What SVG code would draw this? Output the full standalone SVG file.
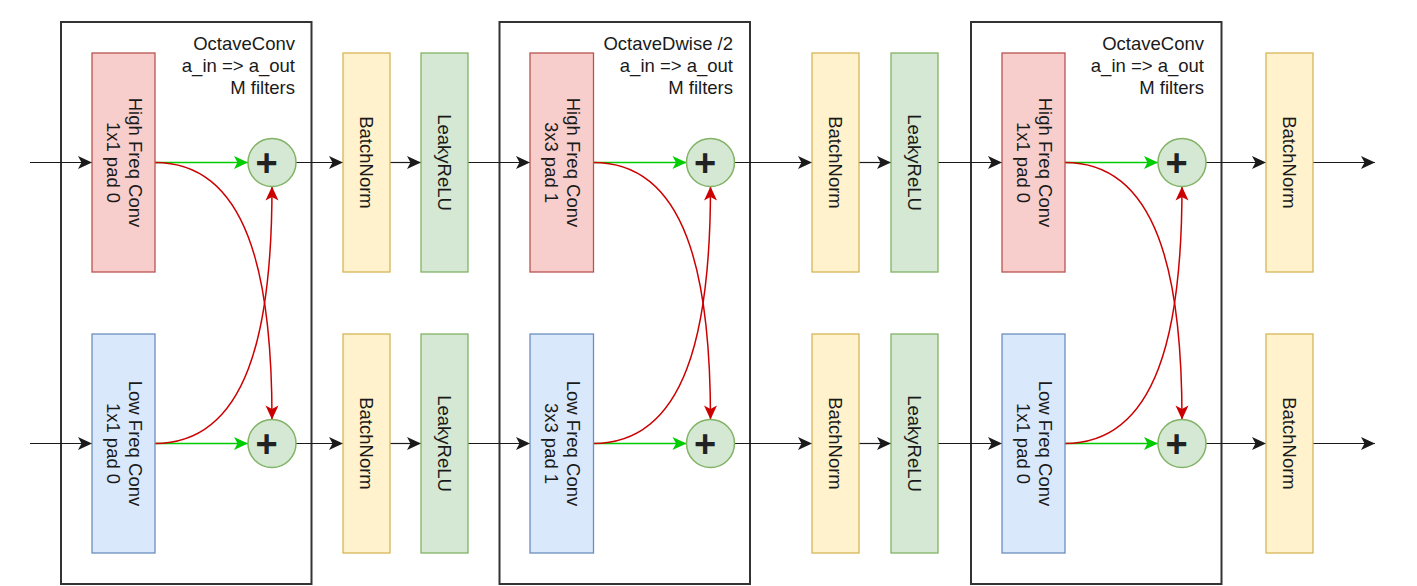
<svg xmlns="http://www.w3.org/2000/svg" width="1417" height="586" viewBox="0 0 1417 586">
<style>
text{font-family:"Liberation Sans",Arial,Helvetica,sans-serif;font-size:18.5px;fill:#1a1a1a}
.cont{fill:none;stroke:#333;stroke-width:2}
.hf{fill:#f8cecc;stroke:#b85450;stroke-width:1.3}
.lf{fill:#dae8fc;stroke:#6c8ebf;stroke-width:1.3}
.bn{fill:#fff2cc;stroke:#d6b656;stroke-width:1.3}
.lr{fill:#d5e8d4;stroke:#82b366;stroke-width:1.3}
.sum{fill:#d5e8d4;stroke:#82b366;stroke-width:1.5}
.plus{font-size:38px;font-weight:bold;fill:#222}
.blk{fill:none;stroke:#1a1a1a;stroke-width:1.2;marker-end:url(#ab)}
.grn{fill:none;stroke:#00cc00;stroke-width:1.5;marker-end:url(#ag)}
.red{fill:none;stroke:#cc0000;stroke-width:1.5;marker-end:url(#ar)}
</style>
<defs>
<marker id="ab" markerUnits="userSpaceOnUse" markerWidth="18" markerHeight="18" viewBox="-16 -9 18 18" refX="0" refY="0" orient="auto"><path d="M0,0 L-14,-6.5 L-10.5,0 L-14,6.5 Z" fill="#1a1a1a"/></marker>
<marker id="ag" markerUnits="userSpaceOnUse" markerWidth="18" markerHeight="18" viewBox="-16 -9 18 18" refX="0" refY="0" orient="auto"><path d="M0,0 L-14,-6.5 L-10.5,0 L-14,6.5 Z" fill="#00cc00"/></marker>
<marker id="ar" markerUnits="userSpaceOnUse" markerWidth="18" markerHeight="18" viewBox="-16 -9 18 18" refX="0" refY="0" orient="auto"><path d="M0,0 L-14,-6.5 L-10.5,0 L-14,6.5 Z" fill="#cc0000"/></marker>
</defs>
<rect width="1417" height="586" fill="#fff"/>

<g id="block1">
<rect class="cont" x="61" y="22" width="250.5" height="562"/>
<text text-anchor="end"><tspan x="295" y="49.5">OctaveConv</tspan><tspan x="295" y="71.5">a_in =&gt; a_out</tspan><tspan x="295" y="93.5">M filters</tspan></text>
</g>
<g id="block2">
<rect class="cont" x="499.5" y="22" width="250.5" height="562"/>
<text text-anchor="end"><tspan x="733" y="49.5">OctaveDwise /2</tspan><tspan x="733" y="71.5">a_in =&gt; a_out</tspan><tspan x="733" y="93.5">M filters</tspan></text>
</g>
<g id="block3">
<rect class="cont" x="971" y="22" width="250.5" height="562"/>
<text text-anchor="end"><tspan x="1204" y="49.5">OctaveConv</tspan><tspan x="1204" y="71.5">a_in =&gt; a_out</tspan><tspan x="1204" y="93.5">M filters</tspan></text>
</g>

<g id="connectors">
<path class="blk" d="M30,162.5 H92"/>
<path class="blk" d="M30,443.5 H92"/>
<path class="grn" d="M155,162.5 H248"/>
<path class="grn" d="M155,443.5 H248"/>
<path class="red" d="M155,162.5 C248,162.5 272,276 272,419.5"/>
<path class="red" d="M155,443.5 C248,443.5 272,330 272,186.5"/>
<path class="blk" d="M296,162.5 H343"/>
<path class="blk" d="M296,443.5 H343"/>
<path class="blk" d="M390,162.5 H421"/>
<path class="blk" d="M390,443.5 H421"/>
<path class="blk" d="M468,162.5 H530"/>
<path class="blk" d="M468,443.5 H530"/>
<path class="grn" d="M593.5,162.5 H686.5"/>
<path class="grn" d="M593.5,443.5 H686.5"/>
<path class="red" d="M593.5,162.5 C686.5,162.5 710.5,276 710.5,419.5"/>
<path class="red" d="M593.5,443.5 C686.5,443.5 710.5,330 710.5,186.5"/>
<path class="blk" d="M734.5,162.5 H812"/>
<path class="blk" d="M734.5,443.5 H812"/>
<path class="blk" d="M859,162.5 H891"/>
<path class="blk" d="M859,443.5 H891"/>
<path class="blk" d="M938,162.5 H1002"/>
<path class="blk" d="M938,443.5 H1002"/>
<path class="grn" d="M1065,162.5 H1158"/>
<path class="grn" d="M1065,443.5 H1158"/>
<path class="red" d="M1065,162.5 C1158,162.5 1182,276 1182,419.5"/>
<path class="red" d="M1065,443.5 C1158,443.5 1182,330 1182,186.5"/>
<path class="blk" d="M1206,162.5 H1266"/>
<path class="blk" d="M1206,443.5 H1266"/>
<path class="blk" d="M1313,162.5 H1375"/>
<path class="blk" d="M1313,443.5 H1375"/>
</g>

<g id="hf1"><rect class="hf" x="92" y="53" width="63" height="219"/><text text-anchor="middle" transform="translate(123.5,162.5) rotate(90)"><tspan x="0" y="-5">High Freq Conv</tspan><tspan x="0" y="17">1x1 pad 0</tspan></text></g>
<g id="lf1"><rect class="lf" x="92" y="334" width="63" height="219"/><text text-anchor="middle" transform="translate(123.5,443.5) rotate(90)"><tspan x="0" y="-5">Low Freq Conv</tspan><tspan x="0" y="17">1x1 pad 0</tspan></text></g>
<g id="sumh1"><circle class="sum" cx="272" cy="162.5" r="24"/><text class="plus" x="266.5" y="176" text-anchor="middle">+</text></g>
<g id="suml1"><circle class="sum" cx="272" cy="443.5" r="24"/><text class="plus" x="266.5" y="457" text-anchor="middle">+</text></g>
<g id="bnh1"><rect class="bn" x="343" y="53" width="47" height="219"/><text text-anchor="middle" transform="translate(366.5,162.5) rotate(90)" y="6.5">BatchNorm</text></g>
<g id="bnl1"><rect class="bn" x="343" y="334" width="47" height="219"/><text text-anchor="middle" transform="translate(366.5,443.5) rotate(90)" y="6.5">BatchNorm</text></g>
<g id="lrh1"><rect class="lr" x="421" y="53" width="47" height="219"/><text text-anchor="middle" transform="translate(444.5,162.5) rotate(90)" y="6.5">LeakyReLU</text></g>
<g id="lrl1"><rect class="lr" x="421" y="334" width="47" height="219"/><text text-anchor="middle" transform="translate(444.5,443.5) rotate(90)" y="6.5">LeakyReLU</text></g>

<g id="hf2"><rect class="hf" x="530" y="53" width="63.5" height="219"/><text text-anchor="middle" transform="translate(561.75,162.5) rotate(90)"><tspan x="0" y="-5">High Freq Conv</tspan><tspan x="0" y="17">3x3 pad 1</tspan></text></g>
<g id="lf2"><rect class="lf" x="530" y="334" width="63.5" height="219"/><text text-anchor="middle" transform="translate(561.75,443.5) rotate(90)"><tspan x="0" y="-5">Low Freq Conv</tspan><tspan x="0" y="17">3x3 pad 1</tspan></text></g>
<g id="sumh2"><circle class="sum" cx="710.5" cy="162.5" r="24"/><text class="plus" x="705" y="176" text-anchor="middle">+</text></g>
<g id="suml2"><circle class="sum" cx="710.5" cy="443.5" r="24"/><text class="plus" x="705" y="457" text-anchor="middle">+</text></g>
<g id="bnh2"><rect class="bn" x="812" y="53" width="47" height="219"/><text text-anchor="middle" transform="translate(835.5,162.5) rotate(90)" y="6.5">BatchNorm</text></g>
<g id="bnl2"><rect class="bn" x="812" y="334" width="47" height="219"/><text text-anchor="middle" transform="translate(835.5,443.5) rotate(90)" y="6.5">BatchNorm</text></g>
<g id="lrh2"><rect class="lr" x="891" y="53" width="47" height="219"/><text text-anchor="middle" transform="translate(914.5,162.5) rotate(90)" y="6.5">LeakyReLU</text></g>
<g id="lrl2"><rect class="lr" x="891" y="334" width="47" height="219"/><text text-anchor="middle" transform="translate(914.5,443.5) rotate(90)" y="6.5">LeakyReLU</text></g>

<g id="hf3"><rect class="hf" x="1002" y="53" width="63" height="219"/><text text-anchor="middle" transform="translate(1033.5,162.5) rotate(90)"><tspan x="0" y="-5">High Freq Conv</tspan><tspan x="0" y="17">1x1 pad 0</tspan></text></g>
<g id="lf3"><rect class="lf" x="1002" y="334" width="63" height="219"/><text text-anchor="middle" transform="translate(1033.5,443.5) rotate(90)"><tspan x="0" y="-5">Low Freq Conv</tspan><tspan x="0" y="17">1x1 pad 0</tspan></text></g>
<g id="sumh3"><circle class="sum" cx="1182" cy="162.5" r="24"/><text class="plus" x="1176.5" y="176" text-anchor="middle">+</text></g>
<g id="suml3"><circle class="sum" cx="1182" cy="443.5" r="24"/><text class="plus" x="1176.5" y="457" text-anchor="middle">+</text></g>
<g id="bnh3"><rect class="bn" x="1266" y="53" width="47" height="219"/><text text-anchor="middle" transform="translate(1289.5,162.5) rotate(90)" y="6.5">BatchNorm</text></g>
<g id="bnl3"><rect class="bn" x="1266" y="334" width="47" height="219"/><text text-anchor="middle" transform="translate(1289.5,443.5) rotate(90)" y="6.5">BatchNorm</text></g>
</svg>
